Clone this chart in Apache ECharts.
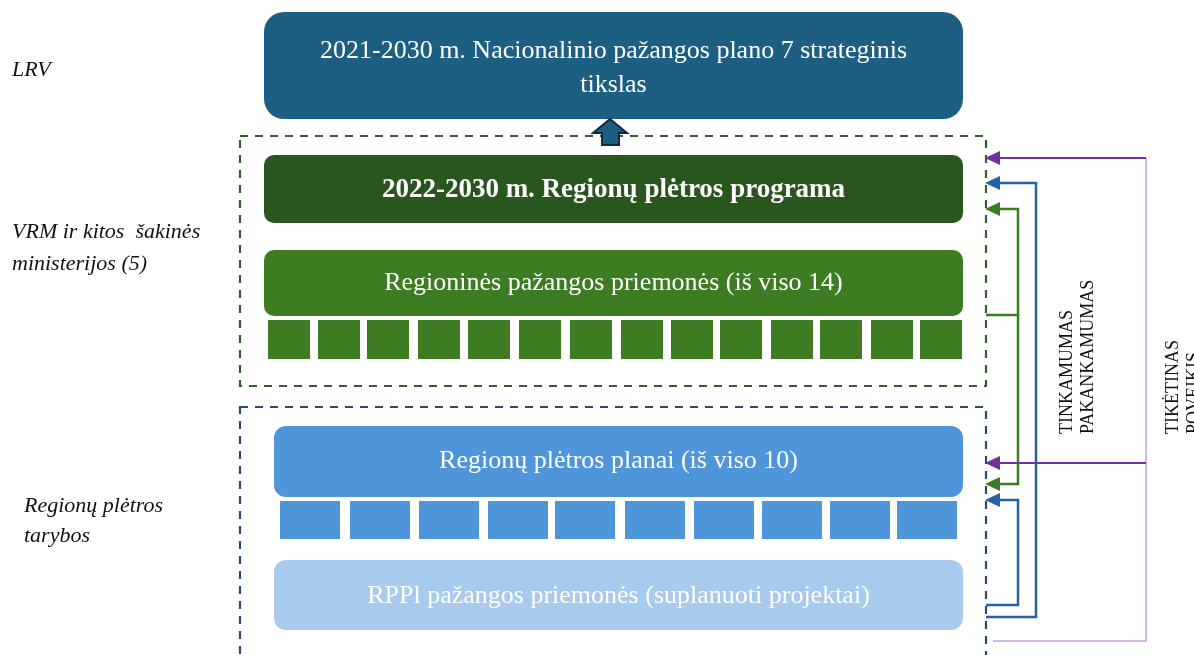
<!DOCTYPE html>
<html>
<head>
<meta charset="utf-8">
<script src="https://cdn.jsdelivr.net/npm/echarts@6/dist/echarts.min.js"></script>
<style>
  html, body { margin: 0; padding: 0; background: #fff; }
  #chart { width: 1194px; height: 655px; }
</style>
</head>
<body>
<div id="chart"></div>
<script>
// box texts, top to bottom
const boxTexts = [
  '2021-2030 m. Nacionalinio pažangos plano 7 strateginis\ntikslas',
  '2022-2030 m. Regionų plėtros programa',
  'Regioninės pažangos priemonės (iš viso 14)',
  'Regionų plėtros planai (iš viso 10)',
  'RPPl pažangos priemonės (suplanuoti projektai)'
];
// box corners: [x0, y0, x1, y1]
const boxCorners = [
  [264, 12, 963, 119],
  [264, 155, 963, 223],
  [264, 250, 963, 316],
  [274, 426, 963, 497],
  [274, 560, 963, 630]
];
// the 14 measures and the 10 plans (left edge of each cell)
const greenSquareX = [268, 318, 367, 418, 468, 519, 570, 621, 671, 720, 771, 820, 871, 920];
const blueSquareX = [280, 350, 419, 488, 555, 625, 694, 762, 830, 897];
// dashed frames
const frameCorners = [
  [240, 136, 986, 386],
  [240, 407, 986, 662]
];
// connector paths, arrow at the last point
const linkPaths = [
  [[993, 641], [1146, 641], [1146, 158]],
  [[1146, 158], [986, 158]],
  [[986, 617], [1036, 617], [1036, 183], [986, 183]],
  [[1018, 315], [1018, 209], [986, 209]],
  [[986, 315], [1018, 315], [1018, 484], [986, 484]],
  [[1146, 463], [986, 463]],
  [[986, 605], [1018, 605], [1018, 500], [986, 500]]
];
const linkArrow = [false, true, true, true, true, true, true];
// left-hand labels
const sideLabels = ['LRV', 'VRM ir kitos  šakinės', 'ministerijos (5)', 'Regionų plėtros', 'tarybos'];
const sideLabelPos = [[12, 70], [12, 232], [12, 264], [24, 506], [24, 536]];
// vertical labels on the right
const sideTags = ['TINKAMUMAS', 'PAKANKAMUMAS', 'TIKĖTINAS', 'POVEIKIS'];
const sideTagPos = [[1067, 434], [1088, 434], [1173, 434], [1194, 434]];

const boxColors = ['#1c5f82', '#28561e', '#3d7c22', '#4f95d9', '#a7caed'];
const boxRadius = [20, 10, 10, 12, 12];
const boxTextShift = [3, 1, 0, 0, 1];
const frameColors = ['#335f2a', '#2c4b70'];
const linkColors = ['#c3a3dd', '#7030a0', '#2563a6', '#3d7c22', '#3d7c22', '#7030a0', '#2563a6'];
const linkWidths = [1.5, 2, 2.5, 2.5, 2.5, 2, 2.5];
const serif = '"Liberation Serif", "DejaVu Serif", serif';

const chart = echarts.init(document.getElementById('chart'));

const option = {
  animation: false,
  grid: { left: 0, right: 0, top: 0, bottom: 0 },
  xAxis: { type: 'value', min: 0, max: 1194, show: false },
  yAxis: { type: 'value', min: 0, max: 655, inverse: true, show: false },
  series: [
    {
      name: 'frames',
      type: 'custom',
      data: frameCorners.map((c, i) => [i]),
      renderItem: function (params, api) {
        const i = api.value(0);
        const c = frameCorners[i];
        const p0 = api.coord([c[0], c[1]]);
        const p1 = api.coord([c[2], c[3]]);
        return {
          type: 'rect',
          shape: { x: p0[0], y: p0[1], width: p1[0] - p0[0], height: p1[1] - p0[1] },
          style: { fill: 'none', stroke: frameColors[i], lineWidth: 2.2, lineDash: [8, 7] }
        };
      }
    },
    {
      name: 'boxes',
      type: 'custom',
      data: boxCorners.map((c, i) => [i]),
      renderItem: function (params, api) {
        const i = api.value(0);
        const c = boxCorners[i];
        const p0 = api.coord([c[0], c[1]]);
        const p1 = api.coord([c[2], c[3]]);
        return {
          type: 'group',
          children: [
            {
              type: 'rect',
              shape: { x: p0[0], y: p0[1], width: p1[0] - p0[0], height: p1[1] - p0[1], r: boxRadius[i] },
              style: { fill: boxColors[i] }
            },
            {
              type: 'text',
              style: {
                x: (p0[0] + p1[0]) / 2,
                y: (p0[1] + p1[1]) / 2 + boxTextShift[i],
                text: boxTexts[i],
                fill: '#fff',
                font: (i === 1 ? 'bold 27px ' : '26px ') + serif,
                lineHeight: 34,
                align: 'center',
                verticalAlign: 'middle'
              }
            }
          ]
        };
      }
    },
    {
      name: 'measures',
      type: 'custom',
      data: greenSquareX.map(x => [x]),
      renderItem: function (params, api) {
        const p0 = api.coord([api.value(0), 320]);
        const p1 = api.coord([api.value(0) + 42, 359]);
        return {
          type: 'rect',
          shape: { x: p0[0], y: p0[1], width: p1[0] - p0[0], height: p1[1] - p0[1] },
          style: { fill: '#3d7c22' }
        };
      }
    },
    {
      name: 'plans',
      type: 'custom',
      data: blueSquareX.map(x => [x]),
      renderItem: function (params, api) {
        const p0 = api.coord([api.value(0), 501]);
        const p1 = api.coord([api.value(0) + 60, 539]);
        return {
          type: 'rect',
          shape: { x: p0[0], y: p0[1], width: p1[0] - p0[0], height: p1[1] - p0[1] },
          style: { fill: '#4f95d9' }
        };
      }
    },
    {
      name: 'up arrow',
      type: 'custom',
      data: [[610, 119, 145]],
      renderItem: function (params, api) {
        const tip = api.coord([api.value(0), api.value(1)]);
        const base = api.coord([api.value(0), api.value(2)]);
        const x = tip[0], t = tip[1], b = base[1];
        return {
          type: 'polygon',
          shape: {
            points: [[x, t], [x + 17, t + 14], [x + 9, t + 14], [x + 9, b], [x - 8, b], [x - 8, t + 14], [x - 17, t + 14]]
          },
          style: { fill: '#1c5f82', stroke: '#0e2a3d', lineWidth: 2 }
        };
      }
    },
    {
      name: 'links',
      type: 'custom',
      data: linkPaths.map((p, i) => [i]),
      renderItem: function (params, api) {
        const i = api.value(0);
        const pts = linkPaths[i].map(p => api.coord(p));
        const children = [];
        const linePts = pts.slice();
        if (linkArrow[i]) {
          const last = linePts[linePts.length - 1];
          linePts[linePts.length - 1] = [last[0] + 12, last[1]];
        }
        children.push({
          type: 'polyline',
          shape: { points: linePts },
          style: { fill: 'none', stroke: linkColors[i], lineWidth: linkWidths[i] }
        });
        if (linkArrow[i]) {
          const tip = pts[pts.length - 1];
          children.push({
            type: 'polygon',
            shape: { points: [[tip[0] - 1, tip[1]], [tip[0] + 14, tip[1] - 7], [tip[0] + 14, tip[1] + 7]] },
            style: { fill: linkColors[i] }
          });
        }
        return { type: 'group', children: children };
      }
    },
    {
      name: 'side labels',
      type: 'custom',
      data: sideLabelPos,
      renderItem: function (params, api) {
        const p = api.coord([api.value(0), api.value(1)]);
        return {
          type: 'text',
          style: {
            x: p[0],
            y: p[1],
            text: sideLabels[params.dataIndex],
            fill: '#111',
            font: 'italic 22px ' + serif,
            align: 'left',
            verticalAlign: 'middle'
          }
        };
      }
    },
    {
      name: 'side tags',
      type: 'custom',
      data: sideTagPos,
      renderItem: function (params, api) {
        const p = api.coord([api.value(0), api.value(1)]);
        return {
          type: 'text',
          x: p[0],
          y: p[1],
          rotation: Math.PI / 2,
          style: {
            x: 0,
            y: 0,
            text: sideTags[params.dataIndex],
            fill: '#111',
            font: '18px ' + serif,
            align: 'left',
            verticalAlign: 'middle'
          }
        };
      }
    }
  ]
};

chart.setOption(option);
</script>
</body>
</html>
